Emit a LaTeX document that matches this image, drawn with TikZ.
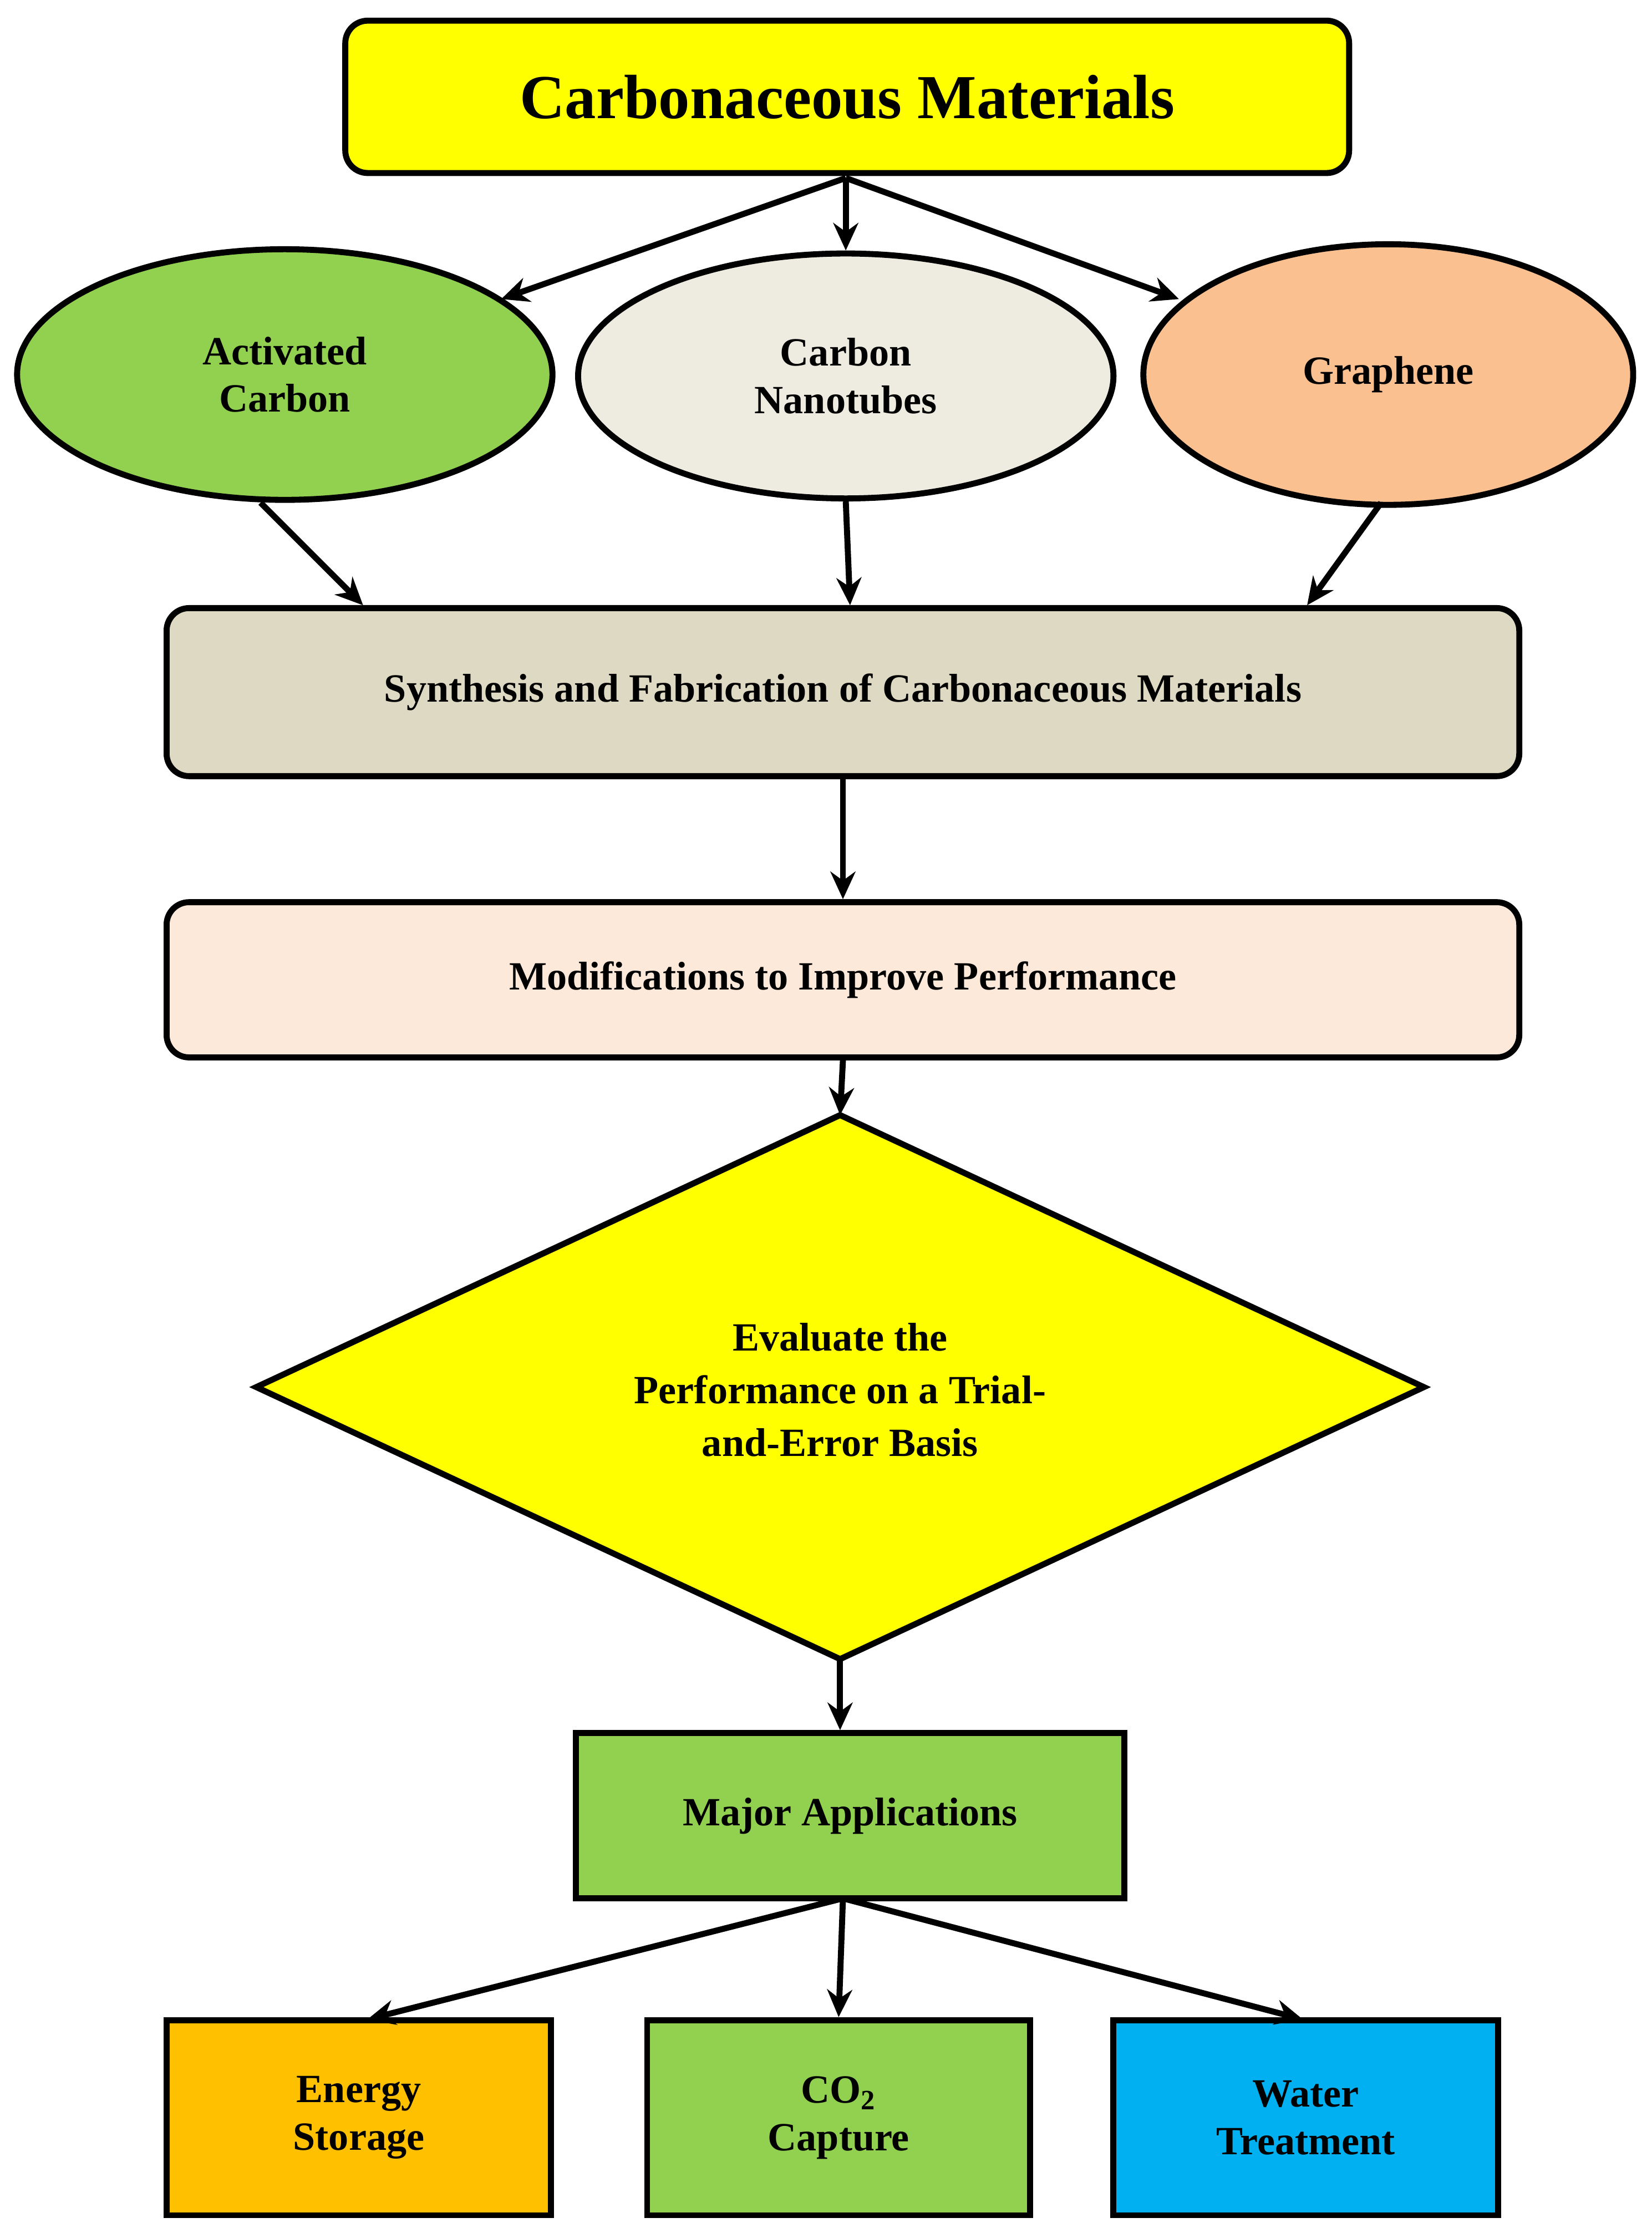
\documentclass[tikz,border=0pt]{standalone}
\usepackage{fontspec}
\setmainfont{Liberation Serif}
\usetikzlibrary{shapes.geometric,arrows.meta}
\begin{document}
\begin{tikzpicture}[x=0.02cm,y=-0.02cm,
  box/.style={draw,line width=2.4pt,rounded corners=9pt,align=center,font=\fontsize{16}{19}\selectfont\bfseries},
  ell/.style={draw,line width=2.4pt,ellipse,align=center,font=\fontsize{16}{19}\selectfont\bfseries,inner sep=0pt},
  arr/.style={line width=2.4pt,-{Stealth[length=11pt,width=10pt]}}]
\useasboundingbox (0,0) rectangle (1160,1568);
\definecolor{ylw}{HTML}{FFFF00}\definecolor{grn}{HTML}{92D050}
\definecolor{cnt}{HTML}{EEECE1}\definecolor{gra}{HTML}{FAC090}
\definecolor{syn}{HTML}{DDD9C3}\definecolor{mod}{HTML}{FDE9D9}
\definecolor{org}{HTML}{FFC000}\definecolor{blu}{HTML}{00B0F0}
\node[box,fill=ylw,minimum width=705*0.02cm,minimum height=107*0.02cm,font=\fontsize{25}{28}\selectfont\bfseries] (top) at (595,68) {Carbonaceous Materials};
\node[ell,fill=grn,minimum width=376*0.02cm,minimum height=176*0.02cm] (ac) at (200,263) {Activated\\Carbon};
\node[ell,fill=cnt,minimum width=376*0.02cm,minimum height=172*0.02cm] (cn) at (594,264) {Carbon\\Nanotubes};
\node[ell,fill=gra,minimum width=344*0.02cm,minimum height=183*0.02cm] (gr) at (975,263) {Graphene};
\node[box,fill=syn,minimum width=950*0.02cm,minimum height=118*0.02cm] (sy) at (592,486) {Synthesis and Fabrication of Carbonaceous Materials};
\node[box,fill=mod,minimum width=950*0.02cm,minimum height=109*0.02cm] (mo) at (592,688) {Modifications to Improve Performance};
\path[draw,line width=2.4pt,fill=ylw] (180,974) coordinate (dl) -- (590,783) coordinate (dt) -- (1000,974) coordinate (dr) -- (590,1165) coordinate (db) -- cycle;
\node[align=center,font=\fontsize{16}{21}\selectfont\bfseries] (ev) at (590,976) {Evaluate the\\Performance on a Trial-\\and-Error Basis};
\node[box,rounded corners=0pt,fill=grn,minimum width=385*0.02cm,minimum height=116*0.02cm] (ma) at (597,1275) {Major Applications};
\node[box,rounded corners=0pt,fill=org,minimum width=270*0.02cm,minimum height=137*0.02cm] (en) at (252,1487) {Energy\\Storage};
\node[box,rounded corners=0pt,fill=grn,minimum width=269*0.02cm,minimum height=137*0.02cm] (co) at (589,1487) {CO\textsubscript{2}\\Capture};
\node[box,rounded corners=0pt,fill=blu,minimum width=270*0.02cm,minimum height=137*0.02cm] (wa) at (917,1487) {Water\\Treatment};
\coordinate (t0) at (594,125);
\coordinate (s1) at (255,425); \coordinate (s2) at (597,425); \coordinate (s3) at (918,425);
\coordinate (m0) at (592,1333);
\draw[arr] (t0) -- (352,210) coordinate (e1);
\draw[arr] (t0) -- (cn.north);
\draw[arr] (t0) -- (828,210) coordinate (e3);
\draw[arr] (183,353) coordinate (a1) -- (s1);
\draw[arr] (cn.south) -- (s2);
\draw[arr] (970,353) coordinate (a3) -- (s3);
\draw[arr] (sy.south) -- (mo.north);
\draw[arr] (mo.south) -- (dt);
\draw[arr] (db) -- (ma.north-|db);
\draw[arr] (m0) -- (258,1418) coordinate (b1);
\draw[arr] (m0) -- (co.north);
\draw[arr] (m0) -- (915,1418) coordinate (b3);
\end{tikzpicture}
\end{document}
